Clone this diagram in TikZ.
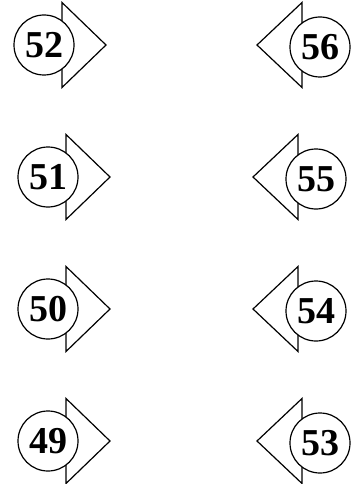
\documentclass[tikz,border=0pt]{standalone}
\usepackage{fontspec}
\setmainfont{Liberation Serif}
\usetikzlibrary{positioning}
\tikzset{
	badge/.style={circle, draw, fill=white, line width=1.2pt, minimum size=60pt, inner sep=0pt, font=\bfseries\fontsize{38}{38}\selectfont},
	flag/.style={draw, fill=white, line width=1.2pt, line join=miter}
}
\begin{document}
\begin{tikzpicture}[x=1pt, y=-1pt]
		\useasboundingbox (0,0) rectangle (351,484);
		% Columna izquierda: flechas hacia la derecha
		\foreach \n/\y/\dx in {52/45/-4, 51/177/0, 50/309/0, 49/441/0} {
			\coordinate (tipL\n) at (110+\dx,\y);
			\draw [flag] (66+\dx,\y-42.5) -- (tipL\n) -- (66+\dx,\y+42.5) -- cycle;
			\node (c\n) [badge] at (48+\dx,\y) {\n};
		}
		% Columna derecha: flechas hacia la izquierda
		\foreach \n/\y/\dx in {56/45/4, 55/177/0, 54/309/0, 53/441/4} {
			\coordinate (tipR\n) at (253+\dx,\y);
			\draw [flag] (298+\dx,\y-42.5) -- (tipR\n) -- (298+\dx,\y+42.5) -- cycle;
			\node (c\n) [badge] at (316+\dx,\y+2) {\n};
		}
	\end{tikzpicture}
\end{document}
